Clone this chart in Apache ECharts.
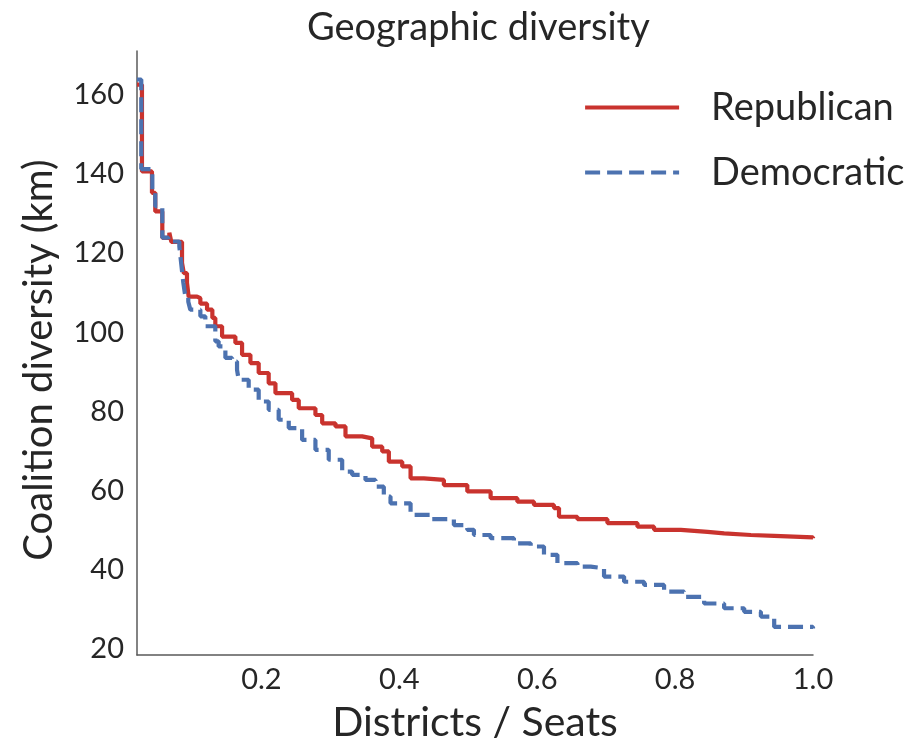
<!DOCTYPE html>
<html>
<head>
<meta charset="utf-8">
<title>Geographic diversity</title>
<script src="https://cdn.jsdelivr.net/npm/echarts@6/dist/echarts.min.js"></script>
<style>
  html, body { margin: 0; padding: 0; background: #fff; }
  #chart { width: 922px; height: 750px; }
</style>
</head>
<body>
<div id="chart"></div>
<script>
// Share of districts / seats (x) and coalition diversity in km (y), step-post curves
const repX = [0.0195, 0.0267, 0.0412, 0.0460, 0.0562, 0.0664, 0.0693, 0.0848, 0.0874, 0.0920,
  0.0944, 0.1066, 0.1114, 0.1211, 0.1288, 0.1331, 0.1429, 0.1622, 0.1719, 0.1840,
  0.1960, 0.2105, 0.2203, 0.2445, 0.2541, 0.2783, 0.2881, 0.3074, 0.3219, 0.3461,
  0.3606, 0.3752, 0.3848, 0.4042, 0.4163, 0.4356, 0.4646, 0.4986, 0.5324, 0.5712,
  0.5953, 0.6243, 0.6316, 0.6583, 0.7018, 0.7454, 0.7695, 0.8083, 0.8470, 0.8711,
  0.9099, 0.9437, 1.0];
const repY = [162.5, 140.6, 135.2, 130.5, 123.8, 125.1, 122.8, 117.5, 114.9, 112.5,
  109.0, 108.6, 107.2, 105.7, 103.6, 101.5, 98.9, 97.3, 94.3, 92.2,
  89.7, 87.1, 84.6, 82.9, 80.8, 79.1, 77.0, 76.2, 73.7, 73.2,
  71.1, 69.9, 67.3, 66.1, 63.1, 62.7, 61.4, 59.8, 58.1, 57.2,
  56.4, 55.6, 53.4, 52.8, 51.8, 50.9, 50.1, 49.6, 49.2, 48.8,
  48.6, 48.2, 48.0];

const demX = [0.0195, 0.0257, 0.0417, 0.0460, 0.0562, 0.0649, 0.0809, 0.0838, 0.0867, 0.0896,
  0.0939, 0.0968, 0.1114, 0.1186, 0.1331, 0.1379, 0.1477, 0.1574, 0.1646, 0.1670,
  0.1815, 0.1960, 0.2105, 0.2250, 0.2396, 0.2590, 0.2783, 0.2976, 0.3171, 0.3316,
  0.3509, 0.3654, 0.3775, 0.3872, 0.4163, 0.4453, 0.4791, 0.4986, 0.5082, 0.5324,
  0.5662, 0.5905, 0.6098, 0.6293, 0.6583, 0.6776, 0.6969, 0.7260, 0.7550, 0.7840,
  0.8131, 0.8421, 0.8711, 0.9002, 0.9244, 0.9437, 1.0];
const demY = [163.8, 141.2, 136.0, 131.8, 123.9, 122.9, 121.7, 117.0, 112.5, 109.0,
  107.7, 105.7, 104.0, 101.5, 97.7, 96.4, 93.5, 92.6, 90.5, 88.0,
  85.5, 82.5, 80.4, 77.9, 75.8, 72.8, 70.3, 67.8, 64.8, 64.0,
  62.7, 61.0, 58.5, 56.8, 53.9, 52.8, 51.3, 50.1, 48.8, 48.0,
  46.7, 45.9, 43.8, 41.7, 40.8, 40.4, 38.3, 37.0, 36.2, 34.5,
  33.2, 31.5, 30.3, 29.4, 28.2, 25.6, 25.2];

const xTicks = [0.2, 0.4, 0.6, 0.8, 1.0];
const yTicks = [20, 40, 60, 80, 100, 120, 140, 160];

const FONT = 'Lato';
const TEXT = '#262626';
const AXIS = '#5a5a5a';
const LINE_W = 4.2;

const zip = (xs, ys) => xs.map((x, i) => [x, ys[i]]);

const chart = echarts.init(document.getElementById('chart'), null, { renderer: 'canvas' });
chart.setOption({
  animation: false,
  backgroundColor: '#ffffff',
  title: {
    text: 'Geographic diversity',
    left: 302,
    top: 4,
    textStyle: { fontFamily: FONT, fontSize: 38, fontWeight: 'normal', color: TEXT }
  },
  legend: {
    orient: 'vertical',
    left: 578,
    top: 80,
    itemWidth: 94,
    itemHeight: 14,
    itemGap: 20,
    data: ['Republican', 'Democratic'],
    itemStyle: { opacity: 0 },
    lineStyle: { width: LINE_W },
    textStyle: { fontFamily: FONT, fontSize: 38, color: TEXT, padding: [0, 0, 0, 27], lineHeight: 45 }
  },
  grid: { left: 137, right: 109, top: 51, bottom: 95 },
  xAxis: {
    type: 'value',
    min: 0.0195,
    max: 1.0,
    name: 'Districts / Seats',
    nameLocation: 'middle',
    nameGap: 47,
    nameTextStyle: { fontFamily: FONT, fontSize: 41, color: TEXT },
    axisLine: { show: true, onZero: false, lineStyle: { color: AXIS, width: 1.5 } },
    axisTick: { show: false },
    splitLine: { show: false },
    axisLabel: {
      customValues: xTicks,
      formatter: v => v.toFixed(1),
      margin: 10,
      fontFamily: FONT, fontSize: 29, color: TEXT
    }
  },
  yAxis: {
    type: 'value',
    min: 18.5,
    max: 171,
    name: 'Coalition diversity (km)',
    nameLocation: 'middle',
    nameGap: 78,
    nameTextStyle: { fontFamily: FONT, fontSize: 40, color: TEXT, padding: [0, 14, 0, 0] },
    axisLine: { show: true, lineStyle: { color: AXIS, width: 1.5 } },
    axisTick: { show: false },
    splitLine: { show: false },
    axisLabel: {
      customValues: yTicks,
      margin: 13,
      fontFamily: FONT, fontSize: 29, color: TEXT
    }
  },
  series: [
    {
      name: 'Republican',
      type: 'line',
      step: 'end',
      symbol: 'none',
      data: zip(repX, repY),
      color: '#c9332e',
      lineStyle: { color: '#c9332e', width: LINE_W },
      z: 2
    },
    {
      name: 'Democratic',
      type: 'line',
      step: 'end',
      symbol: 'none',
      data: zip(demX, demY),
      color: '#4c72b0',
      lineStyle: { color: '#4c72b0', width: LINE_W, type: [15, 7] },
      z: 3
    }
  ]
});
</script>
</body>
</html>
